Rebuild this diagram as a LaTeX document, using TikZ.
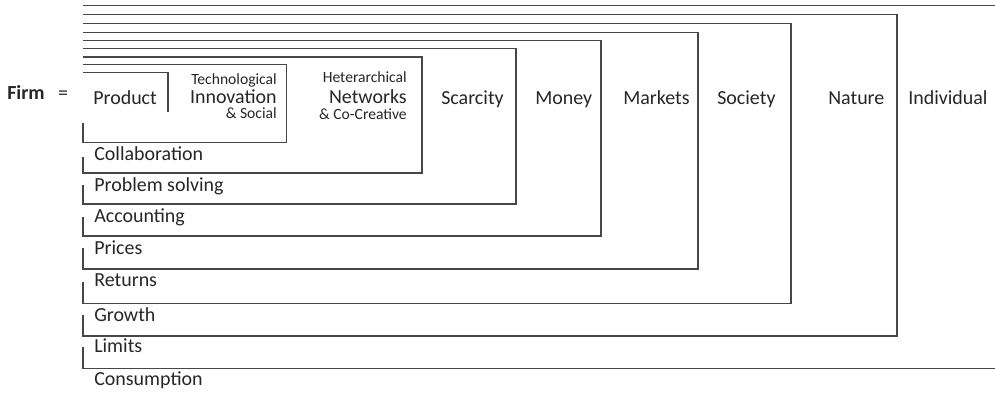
\documentclass[tikz,border=0pt]{standalone}
\usepackage{fontspec}
\setmainfont{Carlito}
\begin{document}
\begin{tikzpicture}[x=0.25mm, y=-0.25mm,
    frame/.style = {draw = black!72, line width = 1.1pt},
    word/.style = {inner sep = 0pt, text = black!85, font = \fontsize{14.2}{17}\selectfont},
    smallword/.style = {inner sep = 0pt, text = black!85, font = \fontsize{11.1}{13}\selectfont}]
\useasboundingbox (0,0) rectangle (995,393);

% nested frames, from the inside out
\draw[frame] (83,72.5) -- (168,72.5) -- (168,112);
\draw[frame] (83,123) -- (83,142.5) -- (286.5,142.5) -- (286.5,64.5) -- (83,64.5);
\draw[frame] (83,157) -- (83,173) -- (422,173) -- (422,57) -- (83,57);
\draw[frame] (83,185) -- (83,204) -- (516,204) -- (516,48.7) -- (83,48.7);
\draw[frame] (83,217) -- (83,236) -- (601,236) -- (601,40.5) -- (83,40.5);
\draw[frame] (83,248) -- (83,269) -- (698,269) -- (698,32.5) -- (83,32.5);
\draw[frame] (83,282) -- (83,303.5) -- (791,303.5) -- (791,23.5) -- (83,23.5);
\draw[frame] (83,315) -- (83,336) -- (897,336) -- (897,14.5) -- (83,14.5);
% outermost, open to the right
\draw[frame] (83,347) -- (83,368.5) -- (995,368.5);
\draw[frame] (83,5.3) -- (995,5.3);

% top row
\node[word, anchor = base west] (firm) at (7,99) {\textbf{Firm}};
\node[word, anchor = base] (equals) at (63,99) {=};
\node[word, anchor = base west] (product) at (93,104) {Product};

\node[smallword, anchor = base east] (techtop) at (277,84) {Technological};
\node[word, anchor = base east] (techmid) at (277,103) {Innovation};
\node[smallword, anchor = base east] (techbot) at (277,118) {\& Social};

\node[smallword, anchor = base east] (nettop) at (407,82) {Heterarchical};
\node[word, anchor = base east] (netmid) at (407,103) {Networks};
\node[smallword, anchor = base east] (netbot) at (407,119) {\& Co-Creative};

\node[word, anchor = base west] (scarcity) at (441,104) {Scarcity};
\node[word, anchor = base west] (money) at (535,104) {Money};
\node[word, anchor = base west] (markets) at (623,104) {Markets};
\node[word, anchor = base west] (society) at (717,104) {Society};
\node[word, anchor = base west] (nature) at (828,104) {Nature};
\node[word, anchor = base west] (individual) at (908,104) {Individual};

% left column
\node[word, anchor = base west] (collab) at (94,160) {Collaboration};
\node[word, anchor = base west] (problem) at (94,191) {Problem solving};
\node[word, anchor = base west] (accounting) at (94,222) {Accounting};
\node[word, anchor = base west] (prices) at (94,254) {Prices};
\node[word, anchor = base west] (returns) at (94,286) {Returns};
\node[word, anchor = base west] (growth) at (94,321) {Growth};
\node[word, anchor = base west] (limits) at (94,352) {Limits};
\node[word, anchor = base west] (consumption) at (94,385) {Consumption};

\end{tikzpicture}
\end{document}
